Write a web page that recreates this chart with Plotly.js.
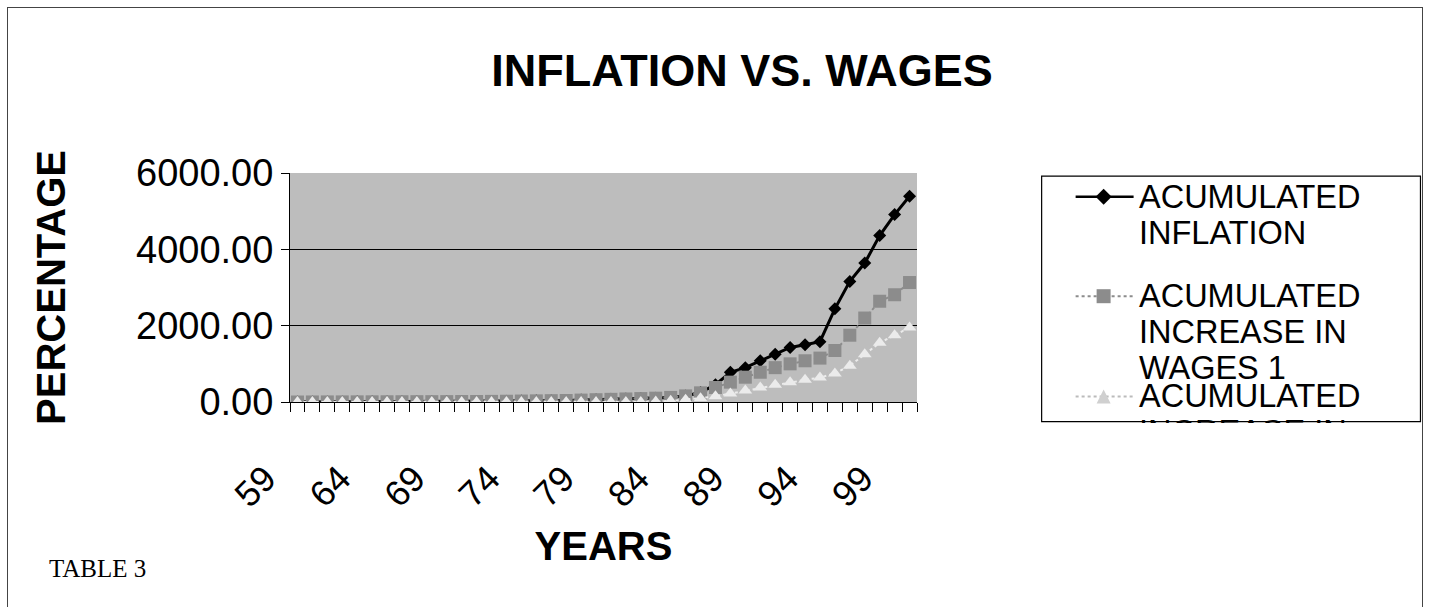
<!DOCTYPE html>
<html>
<head>
<meta charset="utf-8">
<script src="https://cdn.plot.ly/plotly-3.0.1.min.js"></script>
<style>
  html, body { margin: 0; padding: 0; background: #fff; }
  #wrap { position: relative; width: 1429px; height: 607px; overflow: hidden; }
  #chart { position: absolute; left: 0; top: 0; width: 1429px; height: 607px; }
  #frame { position: absolute; left: 7px; top: 7px; width: 1414px; height: 620px; border: 1px solid #444; pointer-events: none; }
  #legcover { position: absolute; left: 1043px; top: 423px; width: 377px; height: 26px; background: #fff; pointer-events: none; }
</style>
</head>
<body>
<div id="wrap">
  <div id="chart"></div>
  <div id="legcover"></div>
  <div id="frame"></div>
</div>
<script>
// ---- data ----
const years = [59,60,61,62,63,64,65,66,67,68,69,70,71,72,73,74,75,76,77,78,79,80,
               81,82,83,84,85,86,87,88,89,90,91,92,93,94,95,96,97,98,99,100];
const inflation = [0,1,2,3,4,5,6,7,8,9,10,12,14,16,20,25,30,35,40,50,60,70,
                   80,90,100,120,160,250,455,780,900,1080,1250,1430,1500,1580,2440,3160,3640,4360,4910,5390];
const wages1 = [0,1,2,3,4,5,6,7,8,9,10,12,14,16,20,25,30,35,40,50,60,70,
                80,90,100,120,160,240,380,520,650,780,900,1000,1080,1150,1350,1750,2200,2640,2810,3130];
const wages2 = [0,0,0,0,0,0,0,0,0,0,0,0,0,0,0,0,0,0,0,0,0,0,
                0,0,10,30,60,100,150,220,300,380,450,520,580,640,750,950,1250,1550,1750,1950];
const tickYears = [59,64,69,74,79,84,89,94,99];
const tickText = ['59','64','69','74','79','84','89','94','99'];
const seriesNames = ['ACUMULATED INFLATION','ACUMULATED INCREASE IN WAGES 1','ACUMULATED INCREASE IN WAGES 2'];
const legendLines = [['ACUMULATED','INFLATION'],['ACUMULATED','INCREASE IN','WAGES 1'],['ACUMULATED','INCREASE IN']];

// ---- geometry ----
const W = 1429, H = 607;
const L = 290, R = 917.3, T = 173.3, B = 402.3;
const px = x => (x - L) / (R - L);
const py = y => (B - y) / (B - T);

const SANS = 'Liberation Sans, Arial, sans-serif';
const colors = ['#000000', '#8c8c8c', '#ebebeb'];

const traces = [
  {x: years, y: inflation, name: seriesNames[0], type: 'scatter', mode: 'lines+markers',
   line: {color: colors[0], width: 3}, marker: {symbol: 'diamond', size: 10, color: colors[0]}},
  {x: years, y: wages1, name: seriesNames[1], type: 'scatter', mode: 'lines+markers',
   line: {color: colors[1], width: 2, dash: 'dot'}, marker: {symbol: 'square', size: 13, color: colors[1]}},
  {x: years, y: wages2, name: seriesNames[2], type: 'scatter', mode: 'lines+markers',
   line: {color: colors[2], width: 2, dash: 'dot'}, marker: {symbol: 'triangle-up', size: 12, color: colors[2]}}
];

// manual legend (box, sample lines, markers, text)
const legRowsY = [197, 296.5, 396.7];
const lineH = 36;
const shapes = [
  {type: 'rect', xref: 'paper', yref: 'paper', x0: px(1042), x1: px(1421), y0: py(176.5), y1: py(422),
   line: {color: '#000', width: 1.2}, fillcolor: 'rgba(0,0,0,0)'}
];
const annotations = [];
const mk = [
  {sym: 'diamond', size: 8},
  {sym: 'square', size: 7},
  {sym: 'triangle', size: 7}
];
legRowsY.forEach((yy, i) => {
  shapes.push({type: 'line', xref: 'paper', yref: 'paper', x0: px(1076), x1: px(1134), y0: py(yy), y1: py(yy),
               line: {color: i === 2 ? '#bbbbbb' : colors[i], width: i === 0 ? 2.5 : 2, dash: i === 0 ? 'solid' : 'dot'}});
  const cx = 1104, s = mk[i].size;
  let path;
  if (mk[i].sym === 'diamond') {
    path = `M ${px(cx)} ${py(yy - s)} L ${px(cx + s)} ${py(yy)} L ${px(cx)} ${py(yy + s)} L ${px(cx - s)} ${py(yy)} Z`;
  } else if (mk[i].sym === 'square') {
    path = `M ${px(cx - s)} ${py(yy - s)} L ${px(cx + s)} ${py(yy - s)} L ${px(cx + s)} ${py(yy + s)} L ${px(cx - s)} ${py(yy + s)} Z`;
  } else {
    path = `M ${px(cx)} ${py(yy - s)} L ${px(cx + s)} ${py(yy + s)} L ${px(cx - s)} ${py(yy + s)} Z`;
  }
  shapes.push({type: 'path', xref: 'paper', yref: 'paper', path: path,
               fillcolor: i === 2 ? '#d0d0d0' : colors[i], line: {width: 0}});
  legendLines[i].forEach((t, j) => {
    annotations.push({xref: 'paper', yref: 'paper', x: px(1137), y: py(yy + j * lineH),
      xanchor: 'left', yanchor: 'middle', showarrow: false, text: t,
      font: {family: SANS, size: 32.5, color: '#000'}});
  });
});

annotations.push({xref: 'paper', yref: 'paper', x: px(47), y: py(569), xanchor: 'left', yanchor: 'middle',
  showarrow: false, text: 'TABLE 3', font: {family: 'Liberation Serif, Times New Roman, serif', size: 25, color: '#000'}});

const layout = {
  width: W, height: H,
  margin: {l: L, r: W - R, t: T, b: H - B, pad: 0},
  paper_bgcolor: '#ffffff',
  plot_bgcolor: '#bdbdbd',
  showlegend: false,
  title: {text: '<b>INFLATION VS. WAGES</b>', x: 742 / W, xref: 'container', xanchor: 'center',
          y: 1 - 70 / H, yref: 'container', yanchor: 'middle',
          font: {family: SANS, size: 45, color: '#000'}},
  xaxis: {
    type: 'linear', range: [58.5, 100.5], autorange: false,
    tickvals: tickYears, ticktext: tickText, tickangle: -45,
    ticklabelshift: -32, ticklabelstandoff: 40,
    ticks: '', showgrid: false, zeroline: false,
    showline: true, linecolor: '#000', linewidth: 1,
    tickfont: {family: SANS, size: 36, color: '#000'},
    minor: {tick0: 58.5, dtick: 1, ticks: 'outside', ticklen: 9, tickcolor: '#000', tickwidth: 1, showgrid: false},
    title: {text: '<b>YEARS</b>', font: {family: SANS, size: 40, color: '#000'}, standoff: 18},
    automargin: false, fixedrange: true
  },
  yaxis: {
    range: [0, 6000], autorange: false, dtick: 2000, tick0: 0, tickformat: '.2f',
    ticks: 'outside', ticklen: 8, tickcolor: '#000',
    showgrid: true, gridcolor: '#000', gridwidth: 1, zeroline: false,
    showline: true, linecolor: '#000', linewidth: 1,
    tickfont: {family: SANS, size: 38, color: '#000'},
    title: {text: '<b>PERCENTAGE</b>', font: {family: SANS, size: 40, color: '#000'}, standoff: 58},
    automargin: false, fixedrange: true
  },
  shapes: shapes,
  annotations: annotations
};

Plotly.newPlot('chart', traces, layout, {displayModeBar: false, staticPlot: true});
</script>
</body>
</html>
